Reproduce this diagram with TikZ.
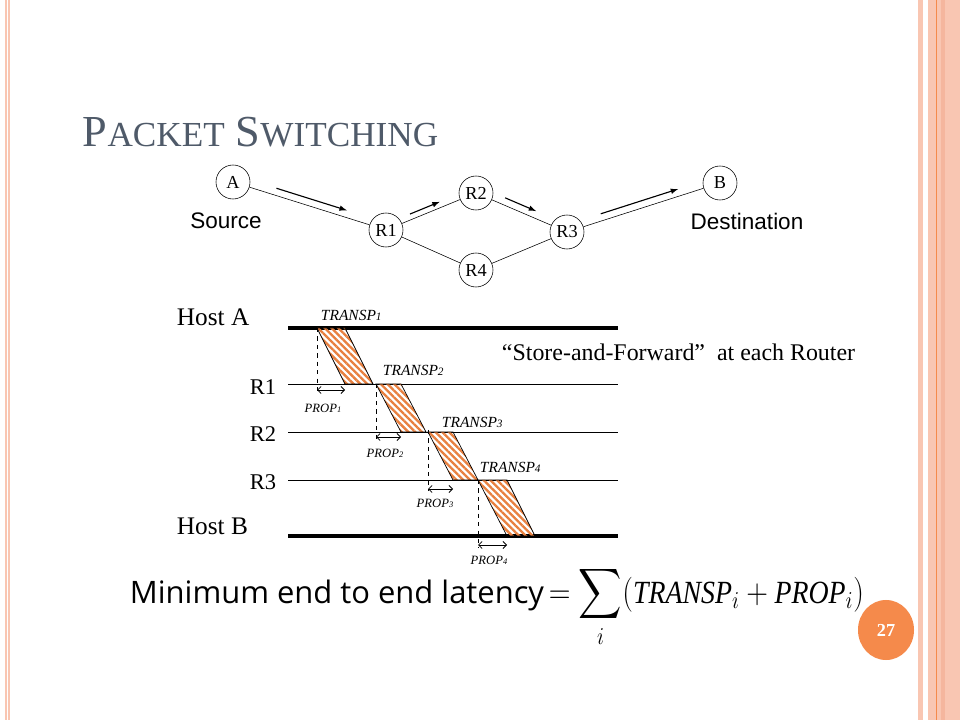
\documentclass[tikz,border=0pt]{standalone}
\usepackage{exscale}
\usepackage{fontspec}
\setmainfont{Liberation Serif}
\setsansfont{Liberation Sans}
\newfontfamily\latencyfont{Open Sans}
\usetikzlibrary{arrows,arrows.meta,calc,patterns.meta,shapes.geometric}
\usepackage{color}

\definecolor{slidepink}{HTML}{F9C6B2}
\definecolor{slidepinkdark}{HTML}{F5B69E}
\definecolor{slideorange}{HTML}{F58A4B}
\definecolor{hatchorange}{HTML}{E8803F}
\definecolor{titlegray}{HTML}{4F5A69}

\begin{document}
\begin{tikzpicture}
      [x = 0.025cm, y = -0.025cm,
      router/.style= {
         draw,
         circle,
         inner sep = 0pt,
         minimum size = 0.85cm,
         font = \fontsize{13}{13}\selectfont
      },
      flow/.style= {-latex, line width = 0.8pt},
      sidelbl/.style= {font = \sffamily\fontsize{16}{16}\selectfont},
      hostlbl/.style= {anchor = base west, font = \fontsize{18}{18}\selectfont},
      rlbl/.style= {anchor = base east, font = \fontsize{16}{16}\selectfont},
      hostline/.style= {line width = 2.8pt},
      routerline/.style= {line width = 0.7pt},
      packet/.style= {
         draw,
         line width = 0.5pt,
         pattern = {Lines[angle = -45, distance = 3.4pt, line width = 1.7pt]},
         pattern color = hatchorange
      },
      waitline/.style= {dashed, line width = 0.6pt},
      propline/.style= {{Straight Barb[length = 2.5pt, width = 5pt]}-{Straight Barb[length = 2.5pt, width = 5pt]},
         line width = 0.6pt},
      translbl/.style= {anchor = base west, font = \itshape\fontsize{11}{11}\selectfont},
      proplbl/.style= {font = \itshape\fontsize{9}{9}\selectfont}]

      % page frame
      \useasboundingbox (0, 0) rectangle (960, 720);
      \fill[white] (0, 0) rectangle (960, 720);
      \fill[slidepink] (5, 0) rectangle (7, 720);
      \fill[slidepink] (8, 0) rectangle (10, 720);
      \fill[slidepink] (918, 0) rectangle (923, 720);
      \fill[slidepink] (928, 0) rectangle (960, 720);
      \fill[slidepinkdark] (941, 0) rectangle (945, 720);
      \draw[slideorange, line width = 0.8pt] (936.5, 0) -- (936.5, 720);

      \node[anchor = base west, text = titlegray, font = \fontsize{31.5}{31.5}\selectfont] (title) at (78, 147)
         {P{\fontsize{25}{25}\selectfont ACKET} S{\fontsize{25}{25}\selectfont WITCHING}};

      % network
      \node[router] (A) at (233, 182) {A};
      \node[router] (R1) at (386, 230) {R1};
      \node[router] (R2) at (476, 193) {R2};
      \node[router] (R3) at (567, 232) {R3};
      \node[router] (R4) at (476, 270) {R4};
      \node[router] (B) at (720, 183) {B};
      \node[sidelbl] (src) at (226, 221) {Source};
      \node[sidelbl] (dst) at (747, 221) {Destination};

      \draw (A) -- (R1);
      \draw (R1) -- (R2);
      \draw (R2) -- (R3);
      \draw (R1) -- (R4);
      \draw (R4) -- (R3);
      \draw (R3) -- (B);

      \draw[flow] ($(A)!0.27!(R1)!5pt!90:(R1)$) -- ($(A)!0.73!(R1)!5pt!90:(R1)$);
      \draw[flow] ($(R1)!0.29!(R2)!4pt!90:(R2)$) -- ($(R1)!0.62!(R2)!4pt!90:(R2)$);
      \draw[flow] ($(R2)!0.29!(R3)!5pt!90:(R3)$) -- ($(R2)!0.63!(R3)!5pt!90:(R3)$);
      \draw[flow] ($(R3)!0.235!(B)!5pt!90:(B)$) -- ($(R3)!0.74!(B)!5pt!90:(B)$);

      % time lines
      \node[hostlbl] (hostA) at (172, 326) {Host A};
      \node[hostlbl] (hostB) at (172, 534) {Host B};
      \node[rlbl] (lblR1) at (281, 395) {R1};
      \node[rlbl] (lblR2) at (281, 442) {R2};
      \node[rlbl] (lblR3) at (281, 490) {R3};
      \node[anchor = base west, font = \fontsize{17}{17}\selectfont] (store) at (497, 361)
         {``Store-and-Forward''\ \ at each Router};

      \draw[hostline] (288, 328) -- (618, 328);
      \draw[routerline] (288, 384) -- (618, 384);
      \draw[routerline] (288, 432) -- (618, 432);
      \draw[routerline] (288, 480) -- (618, 480);
      \draw[hostline] (288, 536) -- (618, 536);

      \draw[packet] (317, 328) -- (345, 328) -- (373, 384) -- (345, 384) -- cycle;
      \draw[packet] (376, 384) -- (401, 384) -- (426, 432) -- (401, 432) -- cycle;
      \draw[packet] (428, 432) -- (453, 432) -- (478, 480) -- (453, 480) -- cycle;
      \draw[packet] (478, 480) -- (507, 480) -- (535, 536) -- (507, 536) -- cycle;

      \draw[waitline] (317, 328) -- (317, 394);
      \draw[waitline] (376, 384) -- (376, 441);
      \draw[waitline] (428, 430) -- (428, 491);
      \draw[waitline] (478, 480) -- (478, 548);

      \draw[propline] (317, 390) -- (345, 390);
      \draw[propline] (376, 437) -- (401, 437);
      \draw[propline] (428, 489) -- (453, 489);
      \draw[propline] (478, 545) -- (507, 545);

      \node[translbl] (tr1) at (316, 321) {TRANSP{\fontsize{8}{8}\selectfont 1}};
      \node[translbl] (tr2) at (378, 376) {TRANSP{\fontsize{8}{8}\selectfont 2}};
      \node[translbl] (tr3) at (437, 428) {TRANSP{\fontsize{8}{8}\selectfont 3}};
      \node[translbl] (tr4) at (475, 473) {TRANSP{\fontsize{8}{8}\selectfont 4}};

      \node[proplbl] (pr1) at (323, 408) {PROP{\fontsize{6}{6}\selectfont 1}};
      \node[proplbl] (pr2) at (385, 453) {PROP{\fontsize{6}{6}\selectfont 2}};
      \node[proplbl] (pr3) at (435, 503) {PROP{\fontsize{6}{6}\selectfont 3}};
      \node[proplbl] (pr4) at (489, 560) {PROP{\fontsize{6}{6}\selectfont 4}};

      % latency
      \node[anchor = base west, font = \latencyfont\fontsize{22}{22}\selectfont] (latency) at (125, 603)
         {Minimum end to end latency};
      \node[anchor = base west, font = \fontsize{23}{23}\selectfont] (formula) at (544, 603)
         {\scalebox{0.86}[1]{$\displaystyle = \sum_i (\mathit{TRANSP}_i + \mathit{PROP}_i)$}};

      \node[ellipse, fill = slideorange, inner sep = 0pt, minimum width = 1.4cm, minimum height = 1.5cm,
         text = white, font = \bfseries\fontsize{13}{13}\selectfont] (pagenum) at (886, 630) {27};

   \end{tikzpicture}
\end{document}
